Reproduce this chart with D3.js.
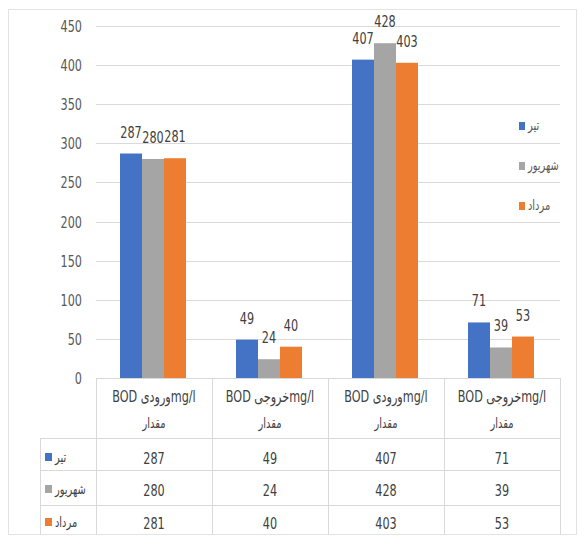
<!DOCTYPE html>
<html>
<head>
<meta charset="utf-8">
<script src="https://cdn.jsdelivr.net/npm/d3@7"></script>
<style>
  body { margin: 0; background: #fff; }
  svg text { font-family: "DejaVu Sans Condensed", "Liberation Sans Narrow", "Liberation Sans", sans-serif; }
</style>
</head>
<body>
<div id="chart"></div>
<script>
// Chart data
var categories = ["in1", "out1", "in2", "out2"];
var categoryLines = [
  ["BOD ورودیmg/l", "مقدار"],
  ["BOD خروجیmg/l", "مقدار"],
  ["BOD ورودیmg/l", "مقدار"],
  ["BOD خروجیmg/l", "مقدار"]
];
var seriesNames = ["تیر", "شهریور", "مرداد"];
var seriesColors = ["#4472C4", "#A5A5A5", "#ED7D31"];
var tir = [287, 49, 407, 71];
var shahrivar = [280, 24, 428, 39];
var mordad = [281, 40, 403, 53];
var yTicks = [0, 50, 100, 150, 200, 250, 300, 350, 400, 450];

var seriesValues = [tir, shahrivar, mordad];

var width = 585, height = 539;
var svg = d3.select("#chart").append("svg")
    .attr("width", width)
    .attr("height", height);

// narrow text, like the Calibri of the original
function narrow(x, y) {
  return "translate(" + x + "," + y + ") scale(0.78,1)";
}

// outer chart border
svg.append("rect")
    .attr("x", 8.5).attr("y", 9.5)
    .attr("width", 568).attr("height", 525)
    .attr("fill", "none")
    .attr("stroke", "#e3e3e3");

var y = d3.scaleLinear().domain([0, 450]).range([378, 26]);
var x0 = d3.scaleBand().domain(categories).range([96, 560]);
var x1 = d3.scaleBand().domain(d3.range(3)).range([24, 90]);

// gridlines
svg.append("g").selectAll("line")
    .data(yTicks)
    .enter()
  .append("line")
    .attr("x1", 96).attr("x2", 560)
    .attr("y1", function(d) { return Math.round(y(d)) + 0.5; })
    .attr("y2", function(d) { return Math.round(y(d)) + 0.5; })
    .attr("stroke", "#d9d9d9");

// y tick labels
svg.append("g").selectAll("text")
    .data(yTicks)
    .enter()
  .append("text")
    .attr("transform", function(d) { return narrow(82, y(d) + 6); })
    .attr("text-anchor", "end")
    .attr("font-size", 16)
    .attr("fill", "#595959")
    .text(function(d) { return d; });

// bars and labels
var groups = svg.append("g").selectAll("g")
    .data(categories)
    .enter()
  .append("g")
    .attr("transform", function(d) { return "translate(" + x0(d) + ",0)"; });

groups.selectAll("rect")
    .data(function(d, i) { return seriesValues.map(function(s, k) { return {k: k, v: s[i]}; }); })
    .enter()
  .append("rect")
    .attr("x", function(d) { return x1(d.k); })
    .attr("width", x1.bandwidth())
    .attr("y", function(d) { return y(d.v); })
    .attr("height", function(d) { return y(0) - y(d.v); })
    .attr("fill", function(d) { return seriesColors[d.k]; });

groups.selectAll("text")
    .data(function(d, i) { return seriesValues.map(function(s, k) { return {k: k, v: s[i]}; }); })
    .enter()
  .append("text")
    .attr("transform", function(d) { return narrow(x1(d.k) + x1.bandwidth() / 2, y(d.v) - 16); })
    .attr("text-anchor", "middle")
    .attr("font-size", 16)
    .attr("fill", "#404040")
    .text(function(d) { return d.v; });

// data table
var rowTop = [438, 470, 505];
var rowBase = [464, 496, 529];
var tbl = svg.append("g").attr("stroke", "#d9d9d9");

x0.domain().concat(["end"]).forEach(function(c) {
  var xx = (c === "end" ? x0.range()[1] : x0(c)) + 0.5;
  tbl.append("line")
      .attr("x1", xx).attr("x2", xx)
      .attr("y1", 378).attr("y2", 535);
});
rowTop.forEach(function(t) {
  tbl.append("line")
      .attr("x1", 40).attr("x2", 560)
      .attr("y1", t + 0.5).attr("y2", t + 0.5);
});
tbl.append("line")
    .attr("x1", 40.5).attr("x2", 40.5)
    .attr("y1", 438).attr("y2", 535);

// category headers
categories.forEach(function(c, i) {
  var cx = x0(c) + x0.bandwidth() / 2;
  svg.append("text")
      .attr("transform", narrow(cx, 402))
      .attr("text-anchor", "middle")
      .attr("direction", "ltr")
      .attr("font-size", 16)
      .attr("fill", "#404040")
      .text(categoryLines[i][0]);
  svg.append("text")
      .attr("transform", narrow(cx, 428))
      .attr("text-anchor", "middle")
      .attr("font-size", 14)
      .attr("fill", "#404040")
      .text(categoryLines[i][1]);
});

// table rows
seriesNames.forEach(function(name, k) {
  svg.append("rect")
      .attr("x", 45).attr("y", rowBase[k] - 11)
      .attr("width", 7).attr("height", 8)
      .attr("fill", seriesColors[k]);
  svg.append("text")
      .attr("transform", narrow(55, rowBase[k] - 2))
      .attr("font-size", 14)
      .attr("fill", "#404040")
      .text(name);
  categories.forEach(function(c, i) {
    svg.append("text")
        .attr("transform", narrow(x0(c) + x0.bandwidth() / 2, rowBase[k]))
        .attr("text-anchor", "middle")
        .attr("font-size", 16)
        .attr("fill", "#404040")
        .text(seriesValues[k][i]);
  });
});

// legend
var legendY = [127, 167, 207];
seriesNames.forEach(function(name, k) {
  svg.append("rect")
      .attr("x", 519).attr("y", legendY[k] - 5)
      .attr("width", 6).attr("height", 8)
      .attr("fill", seriesColors[k]);
  svg.append("text")
      .attr("transform", narrow(528, legendY[k] + 3))
      .attr("font-size", 14)
      .attr("fill", "#595959")
      .text(name);
});
</script>
</body>
</html>
